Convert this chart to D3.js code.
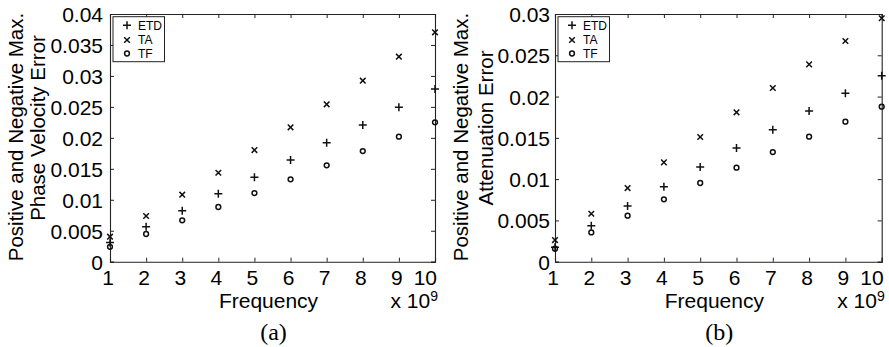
<!DOCTYPE html>
<html>
<head>
<meta charset="utf-8">
<script src="https://cdn.jsdelivr.net/npm/d3@7"></script>
<style>
  body { margin: 0; background: #fff; }
  text { font-family: "Liberation Sans", Arial, sans-serif; fill: #000; }
  text.tag { font-family: "Liberation Serif", "Times New Roman", serif; }
</style>
</head>
<body>
<div id="chart"></div>
<script>
var width = 889;
var height = 347;

// frecuencias en Hz (eje x en unidades de 1e9)
var freq = [1e9, 2e9, 3e9, 4e9, 5e9, 6e9, 7e9, 8e9, 9e9, 10e9];
var seriesNames = ["ETD", "TA", "TF"];

// (a) error de velocidad de fase
var etdPhase = [0.0031, 0.00565, 0.00824, 0.01098, 0.01362, 0.01642, 0.01922, 0.02207, 0.02493, 0.02789];
var taPhase  = [0.00404, 0.00738, 0.01082, 0.01437, 0.01803, 0.0217, 0.02541, 0.02923, 0.03311, 0.03704];
var tfPhase  = [0.0024, 0.00447, 0.00668, 0.00883, 0.01109, 0.0133, 0.01556, 0.01787, 0.02019, 0.0225];

// (b) error de atenuacion
var etdAtten = [0.00174, 0.00436, 0.00674, 0.00908, 0.01147, 0.01377, 0.01599, 0.01825, 0.02039, 0.02253];
var taAtten  = [0.00262, 0.00581, 0.00892, 0.01203, 0.0151, 0.01809, 0.02104, 0.0239, 0.02673, 0.02948];
var tfAtten  = [0.00157, 0.00355, 0.00557, 0.00755, 0.00953, 0.01139, 0.01328, 0.01514, 0.01696, 0.01878];

var freqTicks = [1e9, 2e9, 3e9, 4e9, 5e9, 6e9, 7e9, 8e9, 9e9, 10e9];
var phaseTicks = [0, 0.005, 0.01, 0.015, 0.02, 0.025, 0.03, 0.035, 0.04];
var attenTicks = [0, 0.005, 0.01, 0.015, 0.02, 0.025, 0.03];

var svg = d3.select("#chart")
    .append("svg")
    .attr("width", width)
    .attr("height", height);

// marcadores estilo matlab
function markerPath(name) {
    if (name === "ETD") return "M-4,0H4M0,-4V4";
    if (name === "TA") return "M-2.8,-2.8L2.8,2.8M-2.8,2.8L2.8,-2.8";
    return d3.arc()({ innerRadius: 0, outerRadius: 2.4, startAngle: 0, endAngle: 2 * Math.PI });
}

function drawPanel(opt) {
    var x = d3.scaleLinear().domain([1e9, 10e9]).range([opt.left, opt.right]);
    var y = d3.scaleLinear().domain([0, opt.yMax]).range([261.7, 14]);
    var g = svg.append("g");

    // ejes (box on, ticks hacia dentro)
    var xTop = d3.axisTop(x).tickValues(freqTicks).tickSize(-4).tickFormat("");
    var xBot = d3.axisBottom(x).tickValues(freqTicks).tickSize(-4).tickFormat("");
    var yLeft = d3.axisLeft(y).tickValues(opt.yTicks).tickSize(-4).tickFormat("");
    var yRight = d3.axisRight(y).tickValues(opt.yTicks).tickSize(-4).tickFormat("");

    g.append("g").attr("transform", "translate(0," + y(opt.yMax) + ")").call(xTop);
    g.append("g").attr("transform", "translate(0," + y(0) + ")").call(xBot);
    g.append("g").attr("transform", "translate(" + x(1e9) + ",0)").call(yLeft);
    g.append("g").attr("transform", "translate(" + x(10e9) + ",0)").call(yRight);
    g.selectAll(".domain").attr("stroke", "#222").attr("stroke-width", 1.1);
    g.selectAll(".tick line").attr("stroke", "#222");

    // etiquetas de ticks
    g.selectAll(".xlab")
        .data(freqTicks)
        .enter()
        .append("text")
        .attr("class", "xlab")
        .attr("x", (d, i) => i === freqTicks.length - 1 ? x(d) + 2 : x(d) - 2)
        .attr("y", 285)
        .attr("text-anchor", (d, i) => i === freqTicks.length - 1 ? "end" : "middle")
        .attr("font-size", 21)
        .text((d) => d / 1e9);

    g.selectAll(".ylab")
        .data(opt.yTicks)
        .enter()
        .append("text")
        .attr("class", "ylab")
        .attr("x", x(1e9) - opt.tickGap)
        .attr("y", (d) => y(d))
        .attr("dy", "0.38em")
        .attr("text-anchor", "end")
        .attr("font-size", 21)
        .text((d) => String(+d.toFixed(3)));

    // titulos de ejes
    g.append("text")
        .attr("x", (opt.left + opt.right) / 2 - 4)
        .attr("y", 308)
        .attr("text-anchor", "middle")
        .attr("font-size", 21)
        .text("Frequency");

    var expo = g.append("text")
        .attr("x", opt.right + 3)
        .attr("y", 308)
        .attr("text-anchor", "end")
        .attr("font-size", 21);
    expo.append("tspan").text("x 10");
    expo.append("tspan").attr("dy", -7).attr("font-size", 14).text("9");

    g.append("text")
        .attr("transform", "translate(" + opt.yl1 + ",137) rotate(-90)")
        .attr("dy", "0.36em")
        .attr("text-anchor", "middle")
        .attr("font-size", 20.5)
        .text("Positive and Negative Max.");

    g.append("text")
        .attr("transform", "translate(" + opt.yl2 + ",128) rotate(-90)")
        .attr("dy", "0.36em")
        .attr("text-anchor", "middle")
        .attr("font-size", 20.5)
        .text(opt.ylabel);

    g.append("text")
        .attr("class", "tag")
        .attr("x", (opt.left + opt.right) / 2 + 1)
        .attr("y", 340)
        .attr("text-anchor", "middle")
        .attr("font-size", 24)
        .text(opt.tag);

    // puntos
    var series = [
        { name: "ETD", values: opt.etd },
        { name: "TA", values: opt.ta },
        { name: "TF", values: opt.tf }
    ];
    series.forEach(function (s) {
        g.selectAll(".pt-" + s.name)
            .data(s.values)
            .enter()
            .append("path")
            .attr("class", "pt-" + s.name)
            .attr("transform", (d, i) => "translate(" + x(freq[i]) + "," + y(d) + ")")
            .attr("d", markerPath(s.name))
            .attr("fill", "none")
            .attr("stroke", "#111")
            .attr("stroke-width", 1.5);
    });

    // leyenda
    var lx = opt.left + 3;
    var leg = g.append("g").attr("transform", "translate(" + lx + ",16.7)");
    leg.append("rect")
        .attr("width", 51.5)
        .attr("height", 45)
        .attr("fill", "#fff")
        .attr("stroke", "#222")
        .attr("stroke-width", 1);
    var rows = leg.selectAll(".legrow")
        .data(seriesNames)
        .enter()
        .append("g")
        .attr("class", "legrow")
        .attr("transform", (d, i) => "translate(0," + [8.5, 23.3, 36.8][i] + ")");
    rows.append("path")
        .attr("transform", "translate(14,0)")
        .attr("d", (d) => markerPath(d))
        .attr("fill", "none")
        .attr("stroke", "#111")
        .attr("stroke-width", 1.5);
    rows.append("text")
        .attr("x", 25)
        .attr("dy", "0.36em")
        .attr("font-size", 12)
        .text((d) => d);
}

drawPanel({
    left: 110, right: 435, yMax: 0.04, yTicks: phaseTicks, tickGap: 7,
    etd: etdPhase, ta: taPhase, tf: tfPhase,
    yl1: 16, yl2: 38, ylabel: "Phase Velocity Error", tag: "(a)"
});

drawPanel({
    left: 555, right: 881.7, yMax: 0.03, yTicks: attenTicks, tickGap: 5,
    etd: etdAtten, ta: taAtten, tf: tfAtten,
    yl1: 461, yl2: 486, ylabel: "Attenuation Error", tag: "(b)"
});
</script>
</body>
</html>
